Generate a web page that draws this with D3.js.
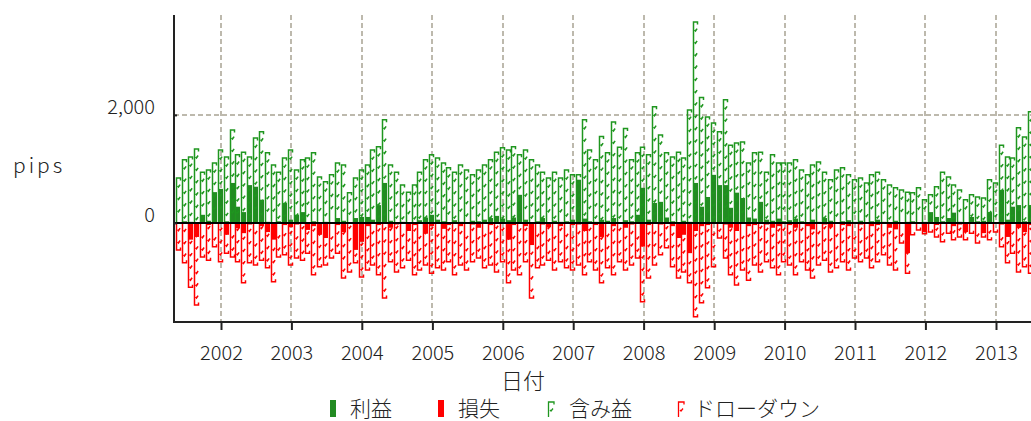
<!DOCTYPE html>
<html>
<head>
<meta charset="utf-8">
<script src="https://cdn.jsdelivr.net/npm/d3@7"></script>
<style>
  body { margin: 0; background: #fff; }
  svg { display: block; font-family: "Noto Sans CJK JP", "Noto Sans", sans-serif; font-weight: 300; }
</style>
</head>
<body>
<svg></svg>
<script>
// monthly bars, May 2001 .. Jun 2013
const months = d3.timeMonth.range(new Date(2001, 4, 1), new Date(2013, 6, 1));

// 利益 (realised profit)
const profit = [
  0, 30, 20, 0, 150, 40, 570, 630,                          // 2001 May-Dec
  30, 740, 300, 200, 700, 670, 430, 20, 0, 30, 370, 60,     // 2002
  150, 200, 0, 30, 0, 20, 0, 90, 40, 0, 90, 110,            // 2003
  110, 60, 330, 740, 40, 0, 20, 0, 0, 50, 100, 150,         // 2004
  60, 30, 0, 50, 20, 0, 40, 30, 60, 90, 130, 80,            // 2005
  50, 100, 520, 60, 0, 30, 90, 0, 40, 20, 30, 60,           // 2006
  800, 80, 30, 20, 60, 40, 90, 0, 50, 30, 150, 650,         // 2007
  60, 370, 390, 100, 30, 0, 40, 20, 740, 300, 480, 890,     // 2008
  700, 700, 280, 560, 460, 100, 80, 390, 60, 40, 80, 30,    // 2009
  50, 80, 30, 0, 60, 20, 90, 40, 0, 30, 50, 20,             // 2010
  40, 0, 30, 60, 20, 0, 40, 0, 20, 30, 0, 20,               // 2011
  200, 110, 30, 90, 190, 20, 0, 110, 30, 40, 200, 0,        // 2012
  610, 60, 300, 330, 30, 330                                // 2013 Jan-Jun
];

// 損失 (realised loss)
const loss = [
  0, 0, -310, -260, 0, -40, 0, -20,
  -220, 0, -100, -190, -30, 0, -60, -170, -310, 0, -40, -80,
  -30, 0, -130, -60, -220, -280, 0, -40, -170, 0, -500, -350,
  -60, 0, -40, 0, -90, -30, 0, -150, -40, 0, -200, -60,
  0, -110, -40, 0, -60, 0, -30, -90, 0, -40, -20, 0,
  -310, -40, 0, -60, -410, 0, -30, -80, 0, -60, 0, -40,
  -30, -150, 0, -40, -260, 0, -60, 0, -90, -30, 0, -440,
  -40, 0, -30, 0, -60, -280, -220, -560, -150, -60, -40, 0,
  0, -30, -90, -150, 0, -60, -40, 0, -30, -90, -60, 0,
  -40, -90, 0, -60, -120, 0, -30, -80, 0, -40, -60, 0,
  -30, 0, -60, -40, 0, -90, -120, 0, -560, 0, 0, -170,
  0, -40, 0, 0, -60, -30, -170, 0, 0, -190, 0, 0,
  -30, -260, 0, -90, -170, -40
];

// 含み益 (max unrealised profit)
const unrealized = [
  830, 1170, 1220, 1370, 940, 980, 1110, 1350,
  1220, 1720, 1260, 1310, 1220, 1570, 1690, 1300, 1070, 940, 1200, 1350,
  980, 1170, 1200, 1300, 850, 760, 890, 1110, 1070, 560, 830, 980,
  1070, 1350, 1410, 1910, 1070, 940, 700, 570, 700, 940, 1170, 1260,
  1200, 1110, 1020, 940, 1070, 980, 890, 980, 1070, 1170, 1310, 1390,
  1350, 1410, 1260, 1350, 1170, 1070, 940, 830, 940, 830, 980, 890,
  890, 1910, 1350, 1170, 1600, 1300, 1870, 1400, 1750, 1170, 1300, 1400,
  1260, 2150, 1630, 1300, 1220, 1310, 1200, 2090, 3720, 2320, 1960, 1850,
  1690, 2280, 1440, 1480, 1500, 1110, 1300, 1310, 940, 1260, 1110, 1110,
  1110, 1170, 980, 890, 1070, 1130, 940, 800, 980, 1020, 890, 800,
  830, 740, 890, 940, 800, 700, 650, 610, 570, 560, 650, 430,
  520, 670, 940, 850, 700, 610, 430, 520, 480, 460, 800, 740,
  1440, 1220, 1200, 1760, 1590, 2060
];

// ドローダウン (max drawdown)
const drawdown = [
  -500, -740, -1190, -1520, -630, -690, -440, -720,
  -560, -630, -720, -1110, -740, -780, -690, -830, -1090, -630, -590, -780,
  -650, -690, -560, -960, -810, -780, -650, -560, -1020, -910, -740, -1000,
  -870, -780, -960, -1390, -720, -910, -830, -690, -960, -870, -780, -930,
  -830, -870, -720, -960, -780, -870, -720, -650, -830, -780, -910, -720,
  -1110, -870, -960, -720, -1390, -830, -780, -690, -870, -720, -830, -870,
  -780, -960, -720, -870, -1110, -830, -960, -720, -870, -780, -650, -1460,
  -1020, -780, -590, -460, -810, -1020, -910, -1110, -1740, -1480, -1200, -810,
  -280, -650, -960, -1150, -870, -1060, -780, -910, -720, -830, -960, -720,
  -780, -960, -720, -870, -1020, -780, -690, -910, -830, -720, -870, -650,
  -720, -650, -830, -720, -590, -780, -870, -370, -930, -220, -130, -200,
  -170, -260, -350, -190, -310, -260, -310, -190, -370, -260, -310, -170,
  -440, -740, -560, -910, -810, -930
];

const yTicks = [0, 2000];
const legendLabels = ["利益", "損失", "含み益", "ドローダウン"];

var w = 1031;
var h = 421;
const plot = { left: 174, top: 15, bottom: 322, right: 1031 };
const green = "#228B22";
const hatchGreen = "#1f961f";
const red = "#FF0000";
const gridColor = "#bdb9ad";

let svg = d3.select("svg")
  .attr("width", w)
  .attr("height", h);

let xScale = d3.scaleTime()
  .domain([new Date(2002, 0, 1), new Date(2013, 0, 1)])
  .range([221, 996]);
let yScale = d3.scaleLinear()
  .domain([-1835, 3850])
  .range([plot.bottom, plot.top]);

const rows = months.map(function(m, i) {
  return {
    mid: d3.timeDay.offset(m, 14),
    profit: profit[i],
    loss: loss[i],
    unreal: unrealized[i],
    dd: drawdown[i]
  };
});
function bx(d) { return Math.round(xScale(d.mid)) + 0.5; }

// grid
const years = xScale.ticks(d3.timeYear.every(1));
svg.append("g").selectAll("line")
  .data(years)
  .enter()
  .append("line")
    .attr("x1", d => Math.round(xScale(d))).attr("x2", d => Math.round(xScale(d)))
    .attr("y1", plot.top).attr("y2", plot.bottom)
    .attr("stroke", gridColor).attr("stroke-width", 2)
    .attr("stroke-dasharray", "5,3");
svg.append("line")
  .attr("x1", plot.left).attr("x2", plot.right)
  .attr("y1", Math.round(yScale(2000))).attr("y2", Math.round(yScale(2000)))
  .attr("stroke", gridColor).attr("stroke-width", 2)
  .attr("stroke-dasharray", "5,3");

const g = svg.append("g");

// solid bars
g.selectAll("rect.profit")
  .data(rows)
  .enter()
  .append("rect")
    .attr("x", d => bx(d))
    .attr("width", 4.5)
    .attr("y", d => yScale(d.profit))
    .attr("height", d => yScale(0) - yScale(d.profit))
    .attr("fill", green);
g.selectAll("rect.loss")
  .data(rows)
  .enter()
  .append("rect")
    .attr("x", d => bx(d))
    .attr("width", 4.5)
    .attr("y", yScale(0))
    .attr("height", d => yScale(d.loss) - yScale(0))
    .attr("fill", red);

// hatched outline bars (left edge + cap + little marks)
function hatchPath(v, xl) {
  const y0 = yScale(0), yt = yScale(v), dir = v >= 0 ? 1 : -1;
  let p = `M${xl},${y0}V${yt}H${xl + 4}V${yt + dir * 2.5}`;
  for (let yy = yt + dir * 8; dir * (y0 - yy) > 4; yy += dir * 12.3) {
    p += `M${xl + 1.2},${yy}L${xl + 2},${yy + 1}L${xl + 3.6},${yy - 1.4}`;
  }
  return p;
}
g.selectAll("path.unreal")
  .data(rows)
  .enter()
  .append("path")
    .attr("d", d => hatchPath(d.unreal, bx(d)))
    .attr("fill", "none").attr("stroke", hatchGreen).attr("stroke-width", 1.5);
g.selectAll("path.dd")
  .data(rows)
  .enter()
  .append("path")
    .attr("d", d => hatchPath(d.dd, bx(d)))
    .attr("fill", "none").attr("stroke", red).attr("stroke-width", 1.5);

// zero line and axes lines
svg.append("line")
  .attr("x1", plot.left).attr("x2", plot.right)
  .attr("y1", yScale(0)).attr("y2", yScale(0))
  .attr("stroke", "#000").attr("stroke-width", 2);
svg.append("line")
  .attr("x1", plot.left).attr("x2", plot.left)
  .attr("y1", plot.top).attr("y2", plot.bottom + 1)
  .attr("stroke", "#222").attr("stroke-width", 2);
svg.append("line")
  .attr("x1", plot.left).attr("x2", plot.right)
  .attr("y1", plot.bottom).attr("y2", plot.bottom)
  .attr("stroke", "#222").attr("stroke-width", 2);

var xAxis = d3.axisBottom(xScale)
  .ticks(d3.timeYear.every(1))
  .tickFormat(d3.timeFormat("%Y"))
  .tickSize(8).tickPadding(16).tickSizeOuter(0);
let xAxisG = svg.append("g")
  .attr("transform", `translate(0,${plot.bottom})`)
  .call(xAxis);
xAxisG.select(".domain").remove();
xAxisG.selectAll(".tick line").attr("stroke", "#222").attr("stroke-width", 2);
xAxisG.selectAll("text").attr("font-size", 20).attr("fill", "#222")
  .attr("font-family", "'Noto Sans CJK JP', sans-serif").attr("font-weight", 300);

var yAxis = d3.axisLeft(yScale)
  .tickValues(yTicks)
  .tickFormat(d3.format(","))
  .tickSize(8).tickSizeOuter(0);
let yAxisG = svg.append("g")
  .attr("transform", `translate(${plot.left},0)`)
  .call(yAxis);
yAxisG.select(".domain").remove();
yAxisG.selectAll(".tick line").attr("x2", 3).attr("stroke", "#222").attr("stroke-width", 2);
yAxisG.selectAll("text")
  .attr("x", -19).attr("dy", "-0.05em")
  .attr("font-size", 20).attr("fill", "#222")
  .attr("font-family", "'Noto Sans CJK JP', sans-serif").attr("font-weight", 300);

// axis titles
svg.append("text")
  .text("pips")
  .attr("x", 13).attr("y", 173)
  .attr("font-size", 21).attr("letter-spacing", 3).attr("fill", "#222");
svg.append("text")
  .text("日付")
  .attr("x", 523).attr("y", 389)
  .attr("text-anchor", "middle")
  .attr("font-size", 22).attr("fill", "#222");

// legend
const legendX = [330, 438, 548, 678];
const legendTextX = [350, 458, 569, 694];
legendLabels.forEach(function(label, i) {
  const lx = legendX[i];
  if (i < 2) {
    svg.append("rect")
      .attr("x", lx).attr("y", 400).attr("width", 6).attr("height", 17)
      .attr("fill", i === 0 ? green : red);
  } else {
    svg.append("path")
      .attr("d", `M${lx + 0.5},417V402H${lx + 6}V404.5M${lx + 2},410L${lx + 3},411L${lx + 5},408.5`)
      .attr("fill", "none")
      .attr("stroke", i === 2 ? hatchGreen : red).attr("stroke-width", 1.3);
  }
  svg.append("text")
    .text(label)
    .attr("x", legendTextX[i]).attr("y", 416)
    .attr("font-size", 21).attr("fill", "#222");
});
</script>
</body>
</html>
